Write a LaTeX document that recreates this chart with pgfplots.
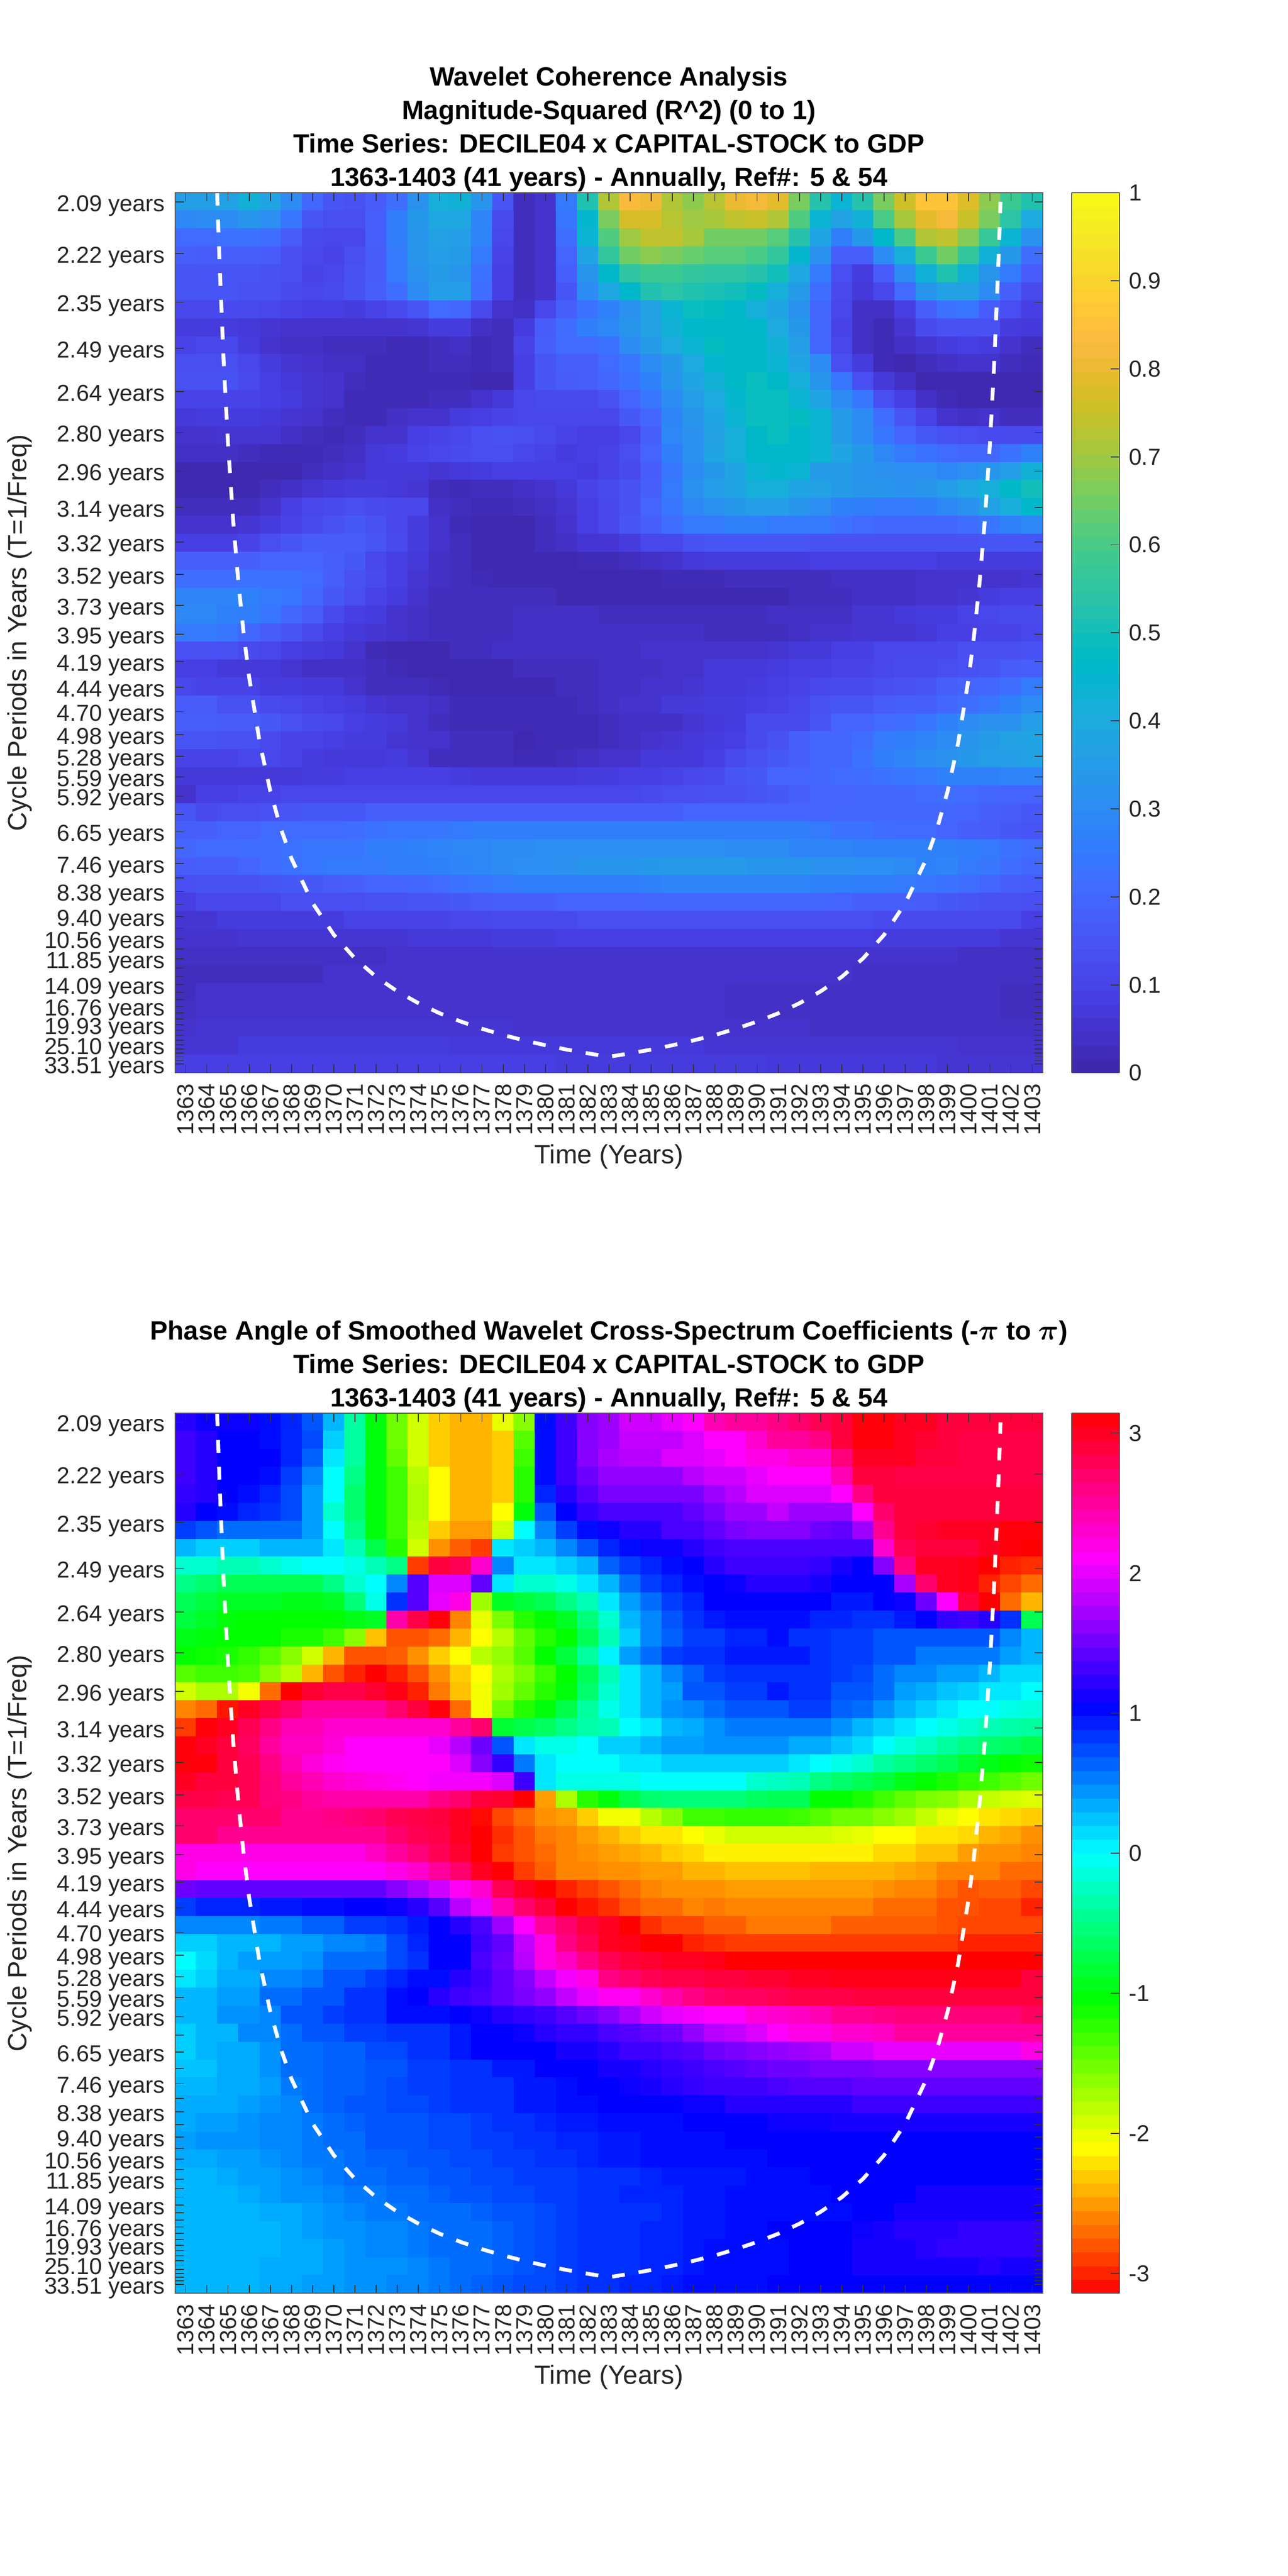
\documentclass[border=0pt]{standalone}
\usepackage{fontspec}
\setmainfont{Liberation Sans}
\usepackage{pgfplots}
\pgfplotsset{compat=1.18}
\newcount\rowno \newcount\colno
\def\acc{}\def\scl{1}
\newcommand\R[1]{%
 \global\colno=0
 \foreach \v in {#1}{%
  \ifnum\colno<41
   \pgfmathsetmacro\w{\v*\scl}%
   \xdef\acc{\acc(\the\colno,\the\rowno)[\w] }%
   \xdef\lastw{\w}%
   \global\advance\colno by 1
  \fi}%
 \loop\ifnum\colno<41
  \xdef\acc{\acc(\the\colno,\the\rowno)[\lastw] }\global\advance\colno by 1
 \repeat
 \global\advance\rowno by 1 }
% ---- magnitude-squared coherence, hundredths; one line per period row, 41 years
\def\scl{0.01}\rowno=0
\R{36,36,37,43,38,30,20,15,14,17,22,32,42,43,33,15,3,5,25,52,72,83,81,72,68,73,80,82,79,66,53,44,53,66,76,86,86,78,68,58,52}
\R{29,30,30,33,31,24,15,13,13,18,26,34,39,39,28,12,3,5,24,45,66,77,77,73,70,71,74,75,72,61,44,37,43,60,71,79,82,75,66,54,40}
\R{21,21,23,23,22,17,12,11,11,18,26,33,37,36,28,11,3,5,22,44,61,70,74,74,71,65,65,65,62,53,38,26,34,46,60,72,74,67,57,44,32}
\R{18,17,18,18,17,13,11,10,13,17,25,33,36,35,25,10,3,5,19,38,56,65,68,66,64,62,62,60,56,45,32,18,18,30,42,58,65,56,43,34,22}
\R{15,15,15,15,14,13,10,11,14,17,25,32,35,33,23,9,3,5,18,33,46,55,58,58,56,55,55,53,50,39,25,13,8,17,30,43,52,43,33,25,17}
\R{15,15,15,14,14,12,11,12,14,18,22,30,36,36,22,9,3,5,15,30,39,46,52,54,52,51,50,48,42,35,22,12,7,11,21,33,37,37,30,18,12}
\R{11,11,12,12,11,10,9,9,8,10,12,15,21,20,12,5,4,11,18,23,27,32,37,44,49,48,46,42,38,32,20,11,4,4,9,18,23,24,17,13,9}
\R{8,8,8,7,6,5,5,5,5,5,5,6,8,8,4,3,8,17,22,26,29,33,37,43,46,47,47,46,40,34,20,10,4,2,6,12,14,14,14,8,7}
\R{10,11,11,8,5,4,4,3,3,3,2,2,3,4,2,3,10,18,21,21,23,30,35,40,44,48,47,47,43,36,20,11,4,2,4,6,8,9,8,5,3}
\R{13,13,13,11,8,6,5,4,4,2,2,2,3,3,2,3,9,15,18,18,21,24,30,34,40,45,47,47,44,38,30,13,8,2,1,3,4,5,5,3,2}
\R{14,14,14,12,9,7,6,5,3,2,2,2,2,2,1,1,9,15,17,18,20,23,27,33,38,43,47,49,47,42,33,24,13,7,4,1,1,1,1,1,1}
\R{10,10,10,10,9,8,6,5,2,2,2,2,3,3,5,7,11,12,12,12,14,19,24,30,36,40,45,49,49,44,38,30,24,13,9,4,2,1,1,1,1}
\R{7,8,8,8,7,6,5,3,2,2,4,5,5,8,9,10,11,11,11,11,11,16,20,28,33,38,44,49,49,48,44,35,30,22,15,10,5,4,5,3,3}
\R{5,5,6,6,6,4,3,2,3,5,5,9,10,11,13,14,13,12,10,9,9,11,18,29,32,37,42,47,49,46,44,35,30,24,19,16,14,13,12,12,12}
\R{4,4,4,3,2,2,2,3,4,7,8,10,11,12,13,13,11,10,8,9,10,13,19,26,32,38,42,46,46,46,44,38,34,29,25,23,21,20,20,23,27}
\R{1,1,1,1,1,1,3,4,5,7,7,7,6,7,8,9,9,9,9,8,10,12,17,24,30,34,38,44,45,44,35,35,33,32,31,31,29,31,33,36,43}
\R{1,1,1,1,3,4,6,7,8,8,7,6,3,2,3,3,4,5,7,10,12,14,18,25,32,36,38,42,42,38,37,35,33,33,32,33,36,39,42,47,50}
\R{3,3,3,3,5,9,11,12,13,12,11,11,4,3,2,2,3,4,6,9,11,14,19,24,29,32,34,36,36,33,31,27,26,25,25,26,29,32,37,41,46}
\R{5,5,5,6,8,10,12,14,16,14,11,8,5,2,1,1,1,3,5,9,11,15,18,22,25,25,27,27,25,25,25,23,21,20,20,20,20,22,24,27,29}
\R{9,9,9,10,13,15,17,17,17,15,12,8,5,3,1,1,1,3,4,6,6,8,11,11,14,15,15,15,15,15,14,14,14,14,14,14,14,14,15,15,15}
\R{18,18,18,18,19,19,19,18,16,11,9,7,4,3,1,1,1,1,1,2,2,3,4,5,7,8,8,8,8,8,9,9,9,9,9,9,8,8,8,8,8}
\R{22,22,22,23,23,23,21,18,14,12,9,6,4,3,2,1,1,1,1,1,1,1,1,2,2,2,3,3,3,3,3,4,4,4,4,5,5,5,5,5,6}
\R{28,28,28,27,25,24,20,16,13,10,8,5,3,3,3,3,3,3,1,1,1,1,1,1,1,1,1,1,1,3,3,3,4,4,4,5,5,6,8,9,9}
\R{29,29,27,26,24,20,17,12,9,8,5,4,3,3,3,3,4,4,4,4,3,3,3,3,3,3,3,3,4,4,4,4,6,6,7,8,8,10,11,12,12}
\R{25,25,24,20,17,15,12,9,7,6,5,4,3,3,3,3,4,4,4,4,4,4,4,4,4,3,3,3,3,4,5,5,6,6,6,7,9,9,10,10,11}
\R{14,14,14,12,11,9,8,7,5,2,1,1,1,3,3,4,4,4,4,4,4,4,5,5,5,5,5,5,6,7,7,9,9,11,11,11,11,13,13,13,14}
\R{9,9,7,7,7,6,4,4,4,3,2,1,1,1,1,1,3,3,3,3,4,4,4,5,5,7,7,7,8,9,9,10,10,11,12,12,13,14,15,17,18}
\R{11,10,10,10,8,8,7,7,5,3,3,3,2,1,1,1,1,1,3,3,4,4,5,5,6,7,7,8,9,10,11,12,12,13,14,15,18,19,20,22,25}
\R{17,17,14,14,12,11,10,9,8,6,5,5,4,2,2,2,2,2,2,3,4,5,5,7,7,8,8,9,10,11,14,15,15,17,18,18,20,22,24,27,30}
\R{18,18,17,17,16,14,12,11,9,8,7,5,3,2,2,2,2,2,2,2,3,4,4,4,6,7,8,12,12,12,15,19,19,21,22,24,27,30,32,32,36}
\R{15,15,14,14,12,10,10,9,8,8,6,5,5,3,3,3,1,2,2,2,3,4,5,6,7,8,9,12,14,18,20,20,22,25,26,28,30,33,35,37,38}
\R{10,10,10,11,11,10,8,7,7,7,8,6,3,3,3,3,2,2,3,4,5,5,7,7,7,9,12,14,16,18,20,20,23,26,28,30,32,34,36,36,37}
\R{7,7,7,7,7,7,8,8,9,9,9,9,9,8,7,7,7,7,7,8,8,9,9,10,11,12,15,16,19,19,20,21,22,23,24,25,27,27,27,28,28}
\R{5,9,9,10,10,11,11,11,11,11,11,11,11,11,11,11,11,11,11,11,11,11,12,13,13,14,14,15,16,18,19,19,20,20,20,21,22,21,20,19,19}
\R{15,12,13,13,14,15,16,16,16,18,18,18,18,18,18,18,18,18,18,18,18,18,18,18,19,19,19,19,19,19,19,20,20,20,20,20,20,19,18,17,16}
\R{18,18,19,19,21,21,21,21,22,23,24,24,24,25,26,26,26,26,26,26,26,26,26,26,26,26,26,26,26,26,25,23,23,22,21,21,19,18,17,16,15}
\R{20,21,21,22,22,23,24,24,24,26,26,27,28,29,29,30,30,31,31,31,31,31,31,31,31,31,30,30,30,28,28,28,27,27,27,27,27,26,25,23,22}
\R{17,18,18,19,22,23,24,25,25,25,26,26,27,28,29,30,31,31,32,33,33,33,34,35,35,35,35,33,33,33,32,32,31,31,30,27,28,25,24,22,20}
\R{13,14,14,14,15,16,16,17,18,19,19,20,21,23,24,25,26,26,26,26,26,26,27,28,28,28,28,28,28,28,27,27,26,26,25,24,23,22,20,18,17}
\R{9,11,11,11,11,13,13,13,13,14,14,15,15,16,17,18,18,18,19,19,19,19,20,20,20,20,20,20,20,20,20,19,18,18,18,17,16,15,14,14,13}
\R{6,6,8,8,8,8,8,8,10,10,10,10,10,11,11,12,12,12,12,13,13,13,13,13,13,13,13,13,13,13,13,13,13,12,12,12,12,12,12,12,9}
\R{5,5,5,6,6,6,6,6,6,6,6,7,7,7,7,8,8,8,9,9,9,9,9,9,9,9,9,9,9,9,9,9,9,8,8,8,8,8,8,6,6}
\R{4,4,4,4,4,4,4,4,4,4,5,5,5,5,5,5,5,5,5,5,5,5,5,5,5,5,5,5,5,5,5,5,5,5,5,5,5,4,4,4,4}
\R{3,3,3,3,3,3,3,5,5,5,5,5,5,5,5,5,5,5,5,5,5,5,5,5,5,5,5,5,5,5,5,5,4,4,4,4,4,4,4,4,4}
\R{3,5,5,5,5,5,5,5,5,5,5,5,5,5,5,5,5,5,5,5,5,5,5,5,5,5,4,4,4,4,4,4,4,4,4,4,4,4,4,3,3}
\R{4,5,5,5,5,5,5,5,5,5,5,5,5,5,5,5,5,5,5,5,5,5,5,5,5,5,4,4,4,4,4,4,4,4,4,4,4,4,4,3,3}
\R{5,6,6,6,6,6,6,6,6,6,6,6,6,6,6,6,5,5,5,5,5,5,5,5,5,5,5,5,5,5,4,4,4,4,4,4,4,4,4,4,4}
\R{6,6,6,8,8,8,8,8,8,8,8,8,8,7,7,7,7,7,7,7,7,7,7,7,7,6,6,6,6,6,6,6,6,6,6,6,6,5,5,5,5}
\R{9,9,9,9,9,9,9,9,9,9,9,9,9,9,9,9,9,9,8,8,8,8,8,8,8,8,8,8,7,7,7,7,7,7,7,7,6,6,6,6,6}
\global\let\dataA\acc
\gdef\acc{}
% ---- phase angle, radians
\def\scl{1}\global\rowno=0
\R{1.2,1.1,1.1,1.1,1,.9,.7,.3,-.4,-1,-1.5,-1.9,-2.3,-2.4,-2.4,-2,-1.6,1,1.3,1.6,1.7,1.9,1.9,2,2.1,2.4,2.5,2.5,2.6,2.7,2.8,2.9,3.1,3.1,3,3,2.9,2.9,2.9,2.9,2.9}
\R{1.3,1.2,1.05,1.05,1,.9,.75,.2,-.4,-1,-1.5,-1.9,-2.3,-2.4,-2.4,-2.3,-1.4,1,1.3,1.6,1.7,1.85,1.85,1.85,1.95,2.1,2.1,2.3,2.5,2.5,2.6,2.9,3.1,3.1,3,2.95,2.9,2.85,2.85,2.85,2.85}
\R{1.3,1.2,1.05,1.05,1.05,.9,.65,.1,-.4,-1,-1.45,-1.9,-2.3,-2.4,-2.4,-2.3,-1.3,1,1.3,1.6,1.75,1.8,1.8,1.95,1.95,2,2.1,2.2,2.2,2.3,2.3,2.65,3,3,3,2.9,2.9,2.85,2.85,2.85,2.85}
\R{1.3,1.2,1.05,1.05,1,.8,.5,0,-.5,-1,-1.3,-1.8,-2.1,-2.4,-2.4,-2.3,-1.2,1,1.3,1.5,1.65,1.65,1.65,1.65,1.8,1.9,1.9,2,2.1,2.1,2.1,2.4,2.9,2.9,2.85,2.85,2.85,2.85,2.85,2.85,2.85}
\R{1.25,1.2,1.05,1,.9,.75,.4,0,-.6,-1,-1.3,-1.75,-2.1,-2.4,-2.4,-2.3,-1.2,.9,1.2,1.4,1.55,1.55,1.55,1.55,1.55,1.7,1.8,1.95,1.95,1.95,1.95,2.1,2.6,2.9,2.9,2.9,2.9,2.9,2.9,2.9,2.9}
\R{1.2,1.05,1,.9,.85,.75,.4,-.2,-.6,-1,-1.3,-1.75,-2.1,-2.4,-2.4,-2.1,-1,.7,1.05,1.25,1.35,1.35,1.35,1.35,1.45,1.55,1.7,1.7,1.85,1.7,1.7,1.7,2.1,2.7,2.9,2.9,2.9,2.9,2.9,2.9,2.9}
\R{.8,.7,.6,.6,.6,.6,.4,0,-.5,-1,-1.3,-1.8,-2.3,-2.5,-2.5,-1.9,0,.5,.8,1,1.1,1.2,1.2,1.35,1.35,1.45,1.55,1.6,1.6,1.6,1.5,1.45,1.7,2.55,2.9,2.95,3,3,3,3.1,3.1}
\R{.3,.2,.2,.2,.3,.3,.3,.1,-.3,-.75,-1.2,-1.9,-2.55,-2.75,-2.9,.1,.2,.3,.5,.7,.9,1,1.1,1.1,1.2,1.3,1.35,1.35,1.35,1.35,1.35,1.35,1.35,2.3,2.8,2.9,2.9,2.9,3,3.1,3.14}
\R{-.2,-.2,-.3,-.3,-.2,-.1,0,0,-.1,-.3,-.5,-2.9,2.9,2.8,2.3,.5,.1,.1,.2,.3,.65,.8,.9,1,1.05,1.2,1.3,1.3,1.3,1.3,1.25,1.15,1.05,1.6,2.6,3,3,3.05,3.14,-3,-2.95}
\R{-.5,-.6,-.7,-.7,-.7,-.7,-.7,-.5,-.2,0,.5,1.4,1.95,1.95,1.45,.1,-.2,-.2,-.1,.1,.3,.6,.8,.9,1,1.05,1.1,1.2,1.2,1.2,1.15,1.05,1.05,1.05,1.75,2.7,3,3.05,-3,-2.85,-2.7}
\R{-.7,-.8,-.9,-.9,-.9,-.95,-.95,-.9,-.55,-.1,.85,1.4,2,2.2,-1.7,-.9,-.8,-.7,-.5,-.3,.1,.4,.6,.8,.9,1.05,1.05,1.05,1.05,1.05,1.05,.95,.95,1.05,1.1,1.5,2.1,2.9,-3.14,-2.7,-2.4}
\R{-.8,-.9,-1,-1.05,-1.05,-1.05,-1.05,-1.05,-.95,-.9,2.45,2.85,3.1,-2.6,-2,-1.55,-1.2,-1.05,-.9,-.55,-.2,.3,.5,.7,.85,.95,1,1,1,1,.9,.9,.85,.85,.95,1.05,1.25,1.3,1.2,.85,-.7}
\R{-.95,-1,-1.05,-1.05,-1.05,-1.15,-1.15,-1.3,-1.6,-2.35,-2.8,-2.8,-2.7,-2.4,-2.1,-1.8,-1.45,-1.2,-1.05,-.7,-.3,.2,.5,.65,.8,.8,.9,.9,1,.85,.85,.8,.8,.7,.7,.7,.7,.7,.7,.5,.3}
\R{-1.05,-1.1,-1.15,-1.25,-1.4,-1.6,-1.9,-2.4,-2.8,-2.8,-2.75,-2.55,-2.3,-2.1,-1.8,-1.65,-1.4,-1.05,-.8,-.4,.05,.4,.6,.8,.85,.85,.95,.95,.95,.95,.85,.8,.8,.7,.7,.55,.55,.55,.55,.4,.3}
\R{-1.4,-1.3,-1.3,-1.35,-1.6,-1.8,-2.4,-2.8,-3,-3.14,-3,-2.8,-2.55,-2.3,-2.1,-1.75,-1.55,-1.3,-1.05,-.7,-.3,.1,.3,.5,.65,.8,.85,.85,.85,.85,.85,.8,.75,.6,.5,.5,.4,.4,.3,.15,.15}
\R{-1.9,-1.75,-1.75,-2.05,-2.7,-3.14,2.95,2.85,2.85,2.95,3.05,-3,-2.65,-2.35,-2.05,-1.7,-1.45,-1.2,-1,-.6,-.2,.1,.3,.4,.7,.7,.8,.8,.95,.85,.85,.7,.7,.6,.4,.35,.25,.2,.1,.1,0}
\R{-2.6,-2.7,-3.05,3,2.85,2.7,2.5,2.5,2.5,2.5,2.7,2.9,3.1,-2.7,-2.05,-1.5,-1.2,-1,-.75,-.4,-.1,.1,.3,.45,.5,.6,.7,.7,.7,.8,.8,.65,.6,.45,.3,.2,.1,0,0,-.1,-.15}
\R{-2.9,3.1,3,2.8,2.6,2.4,2.4,2.3,2.3,2.3,2.3,2.3,2.3,2.5,2.7,-.85,-.75,-.65,-.5,-.35,-.3,0,.1,.3,.35,.45,.55,.55,.55,.55,.55,.45,.3,.2,.1,0,-.1,-.2,-.3,-.35,-.4}
\R{3.1,3,2.9,2.75,2.5,2.35,2.35,2.25,2.1,2.1,2.1,2.1,2,1.8,1.5,.7,.1,-.1,-.1,0,.2,.2,.3,.4,.4,.45,.45,.45,.45,.35,.35,.25,.15,0,-.15,-.25,-.4,-.5,-.6,-.65,-.75}
\R{3.1,3.1,2.9,2.8,2.6,2.4,2.25,2.15,2.1,2.1,2.1,2.1,2.1,1.95,1.6,1.25,.55,.1,0,0,0,.1,.1,.2,.2,.2,.2,.2,.2,.1,0,-.1,-.2,-.4,-.5,-.6,-.7,-.85,-.95,-1.05,-1.1}
\R{3,2.9,2.9,2.8,2.65,2.5,2.4,2.3,2.25,2.2,2.15,2.1,2.05,2.05,2.05,1.95,1.3,.1,-.1,-.1,-.1,-.1,0,0,0,0,0,-.2,-.25,-.3,-.5,-.6,-.7,-.8,-.95,-1.05,-1.15,-1.25,-1.3,-1.4,-1.5}
\R{2.85,2.85,2.8,2.8,2.65,2.6,2.5,2.45,2.45,2.45,2.45,2.45,2.6,2.7,2.9,2.95,3.14,-2.5,-1.75,-1.2,-1,-.75,-.6,-.55,-.55,-.55,-.55,-.65,-.7,-.7,-1.05,-1.05,-1.15,-1.3,-1.45,-1.55,-1.6,-1.75,-1.85,-1.9,-1.95}
\R{2.7,2.7,2.7,2.7,2.7,2.55,2.55,2.6,2.65,2.7,2.8,2.85,2.9,3,-3.1,-2.85,-2.7,-2.55,-2.5,-2.3,-2.05,-2.05,-1.8,-1.6,-1.3,-1.3,-1.25,-1.25,-1.25,-1.3,-1.4,-1.5,-1.5,-1.6,-1.7,-1.85,-2,-2.1,-2.2,-2.25,-2.3}
\R{2.7,2.7,2.55,2.55,2.55,2.55,2.55,2.55,2.55,2.55,2.7,2.8,2.85,3,3.14,-2.95,-2.8,-2.65,-2.6,-2.5,-2.4,-2.3,-2.2,-2.2,-2.1,-2,-1.9,-1.9,-1.9,-1.9,-1.9,-1.95,-2,-2.1,-2.1,-2.2,-2.2,-2.25,-2.4,-2.45,-2.55}
\R{2.2,2.2,2.2,2.2,2.2,2.2,2.2,2.2,2.2,2.35,2.5,2.65,2.8,2.95,3.14,-2.9,-2.8,-2.7,-2.6,-2.55,-2.5,-2.45,-2.4,-2.3,-2.25,-2.15,-2.15,-2.15,-2.15,-2.15,-2.15,-2.15,-2.15,-2.25,-2.25,-2.35,-2.35,-2.5,-2.55,-2.55,-2.6}
\R{2.2,2.1,2.1,2.1,2.1,2.1,2.1,2.1,2.1,2.1,2.2,2.3,2.5,2.7,3,3.14,-2.9,-2.75,-2.6,-2.6,-2.55,-2.55,-2.5,-2.5,-2.4,-2.4,-2.35,-2.35,-2.35,-2.35,-2.4,-2.4,-2.4,-2.4,-2.45,-2.5,-2.6,-2.6,-2.6,-2.7,-2.7}
\R{1.5,1.45,1.45,1.45,1.45,1.45,1.45,1.45,1.45,1.45,1.6,1.75,1.9,2.15,2.3,2.8,3,3.14,-3,-2.9,-2.8,-2.7,-2.6,-2.55,-2.55,-2.55,-2.5,-2.5,-2.5,-2.5,-2.5,-2.5,-2.5,-2.55,-2.6,-2.6,-2.7,-2.8,-2.75,-2.75,-2.85}
\R{.8,.9,.9,.9,.95,.95,1,1,1.05,1.05,1.1,1.2,1.4,1.8,2,2.4,2.7,2.9,3.14,-3.05,-2.95,-2.8,-2.7,-2.7,-2.6,-2.65,-2.6,-2.6,-2.6,-2.6,-2.6,-2.6,-2.6,-2.7,-2.7,-2.7,-2.8,-2.8,-2.85,-2.85,-3}
\R{.5,.5,.5,.5,.55,.55,.65,.65,.8,.8,.85,.95,1.05,1.2,1.35,1.7,2.1,2.5,2.7,2.9,3,3.14,-2.95,-2.85,-2.85,-2.75,-2.75,-2.65,-2.65,-2.65,-2.65,-2.75,-2.75,-2.75,-2.75,-2.75,-2.8,-2.85,-2.85,-2.85,-2.85}
\R{.2,.2,.3,.3,.3,.4,.4,.5,.5,.55,.75,.9,1.05,1.05,1.3,1.45,1.85,2.2,2.6,2.8,3,3.05,3.14,3.14,-3,-2.95,-2.9,-2.9,-2.9,-2.9,-2.9,-2.9,-2.9,-2.9,-2.9,-2.9,-2.9,-3,-3,-3,-3}
\R{0,.15,.3,.4,.4,.4,.45,.6,.6,.6,.75,.85,1.05,1.05,1.35,1.5,1.8,2.2,2.35,2.6,2.8,2.9,2.95,3,3,3.05,3.14,3.14,3.14,3.14,3.14,3.14,3.14,3.14,3.14,3.14,3.14,3.14,3.14,3.14,3.14}
\R{.1,.2,.35,.35,.5,.5,.55,.7,.7,.8,.9,1,1,1.2,1.3,1.45,1.6,1.85,2.05,2.2,2.6,2.7,2.8,2.85,2.85,2.9,2.9,2.95,2.95,3,3,3.05,3.05,3.05,3.05,3.05,3.05,3.05,3.05,3.05,2.9}
\R{.3,.3,.4,.4,.6,.6,.7,.7,.85,.85,1,1.05,1.2,1.3,1.35,1.45,1.55,1.65,1.85,2,2.15,2.15,2.3,2.45,2.6,2.7,2.75,2.75,2.8,2.85,2.85,2.85,2.9,2.9,2.9,2.9,2.9,2.9,2.9,2.9,2.9}
\R{.3,.3,.45,.45,.5,.7,.7,.8,.85,.85,1,1,1,1.05,1.1,1.2,1.25,1.3,1.4,1.5,1.6,1.75,1.9,2,2.05,2.1,2.1,2.25,2.3,2.35,2.4,2.55,2.55,2.6,2.65,2.65,2.65,2.65,2.65,2.65,2.75}
\R{.2,.3,.3,.5,.5,.6,.7,.7,.8,.8,.85,.85,.85,.95,1.05,1.05,1.1,1.2,1.25,1.25,1.35,1.4,1.45,1.5,1.65,1.8,1.85,1.95,2.1,2.2,2.2,2.3,2.3,2.35,2.5,2.5,2.5,2.5,2.5,2.5,2.5}
\R{.2,.3,.35,.35,.45,.6,.6,.65,.65,.75,.75,.85,.85,.95,1.05,1.05,1.05,1.05,1.15,1.15,1.2,1.3,1.3,1.35,1.4,1.5,1.55,1.6,1.65,1.7,1.75,1.9,1.9,2,2,2,2,2,2,2,2.2}
\R{.25,.25,.35,.35,.45,.6,.6,.65,.65,.7,.7,.8,.8,.85,.85,.95,.95,1.05,1.05,1.05,1.15,1.15,1.2,1.25,1.3,1.35,1.4,1.45,1.5,1.5,1.55,1.55,1.55,1.6,1.6,1.6,1.6,1.6,1.6,1.6,1.6}
\R{.3,.3,.35,.35,.4,.55,.6,.65,.65,.7,.75,.8,.8,.85,.85,.85,.95,.95,1,1.05,1.05,1.1,1.15,1.2,1.25,1.3,1.3,1.3,1.35,1.4,1.4,1.4,1.45,1.45,1.45,1.45,1.45,1.45,1.45,1.45,1.45}
\R{.35,.35,.35,.4,.45,.5,.6,.65,.7,.7,.75,.75,.8,.85,.85,.85,.95,.95,1,1,1.05,1.05,1.05,1.05,1.1,1.1,1.2,1.2,1.2,1.2,1.2,1.2,1.3,1.3,1.3,1.3,1.3,1.3,1.3,1.3,1.3}
\R{.35,.4,.4,.45,.5,.5,.55,.6,.65,.7,.7,.7,.75,.75,.8,.85,.85,.9,.95,.95,1,1,1,1,1.05,1.05,1.05,1.05,1.1,1.1,1.1,1.15,1.15,1.15,1.15,1.15,1.15,1.15,1.15,1.15,1.15}
\R{.4,.45,.45,.45,.5,.5,.55,.6,.6,.7,.7,.7,.75,.75,.8,.8,.85,.85,.9,.9,.95,.95,1,1,1,1,1.05,1.05,1.05,1.05,1.05,1.05,1.05,1.05,1.05,1.05,1.05,1.05,1.05,1.05,1.05}
\R{.35,.35,.4,.4,.45,.5,.55,.55,.6,.65,.65,.7,.7,.75,.75,.8,.8,.85,.85,.9,.95,.95,1,1,1,1,1,1,1.05,1.05,1.05,1.05,1.05,1.05,1.05,1.05,1.05,1.05,1.05,1.05,1.05}
\R{.3,.3,.35,.4,.4,.45,.5,.55,.6,.6,.65,.65,.7,.7,.75,.75,.8,.8,.8,.85,.85,.85,.9,.95,.95,.95,.95,1,1,1,1.05,1.05,1.05,1.05,1.05,1.05,1.05,1.05,1.05,1.05,1.05}
\R{.3,.3,.3,.35,.4,.45,.45,.5,.55,.55,.6,.6,.65,.7,.7,.75,.75,.8,.8,.85,.85,.9,.9,.9,.95,.95,1,1,1,1,1,1.05,1.05,1.05,1.05,1.15,1.15,1.15,1.15,1.15,1.15}
\R{.3,.3,.3,.3,.35,.35,.4,.45,.5,.55,.55,.6,.6,.6,.65,.7,.7,.75,.8,.85,.85,.85,.85,.9,.95,.95,1,1,1,1,1,1,1.05,1.05,1.15,1.15,1.15,1.15,1.15,1.15,1.15}
\R{.3,.3,.3,.3,.3,.35,.4,.45,.45,.5,.5,.55,.6,.6,.6,.65,.7,.75,.8,.85,.85,.85,.9,.9,.95,.95,1,1,1.05,1.05,1.05,1.05,1.1,1.15,1.2,1.2,1.2,1.25,1.25,1.25,1.25}
\R{.3,.3,.3,.3,.3,.35,.35,.4,.45,.5,.5,.55,.6,.6,.6,.65,.7,.75,.8,.85,.85,.85,.9,.9,.95,1,1,1,1,1.05,1.05,1.05,1.15,1.15,1.15,1.2,1.25,1.25,1.25,1.25,1.25}
\R{.3,.3,.3,.3,.35,.35,.35,.4,.45,.45,.45,.5,.55,.6,.6,.65,.7,.75,.8,.85,.85,.85,.9,.9,.95,1,1,1,1,1.05,1.05,1.05,1.15,1.15,1.15,1.15,1.15,1.15,1.2,1.15,1.15}
\R{.3,.3,.3,.3,.35,.35,.4,.4,.45,.45,.5,.5,.55,.6,.65,.7,.75,.75,.8,.85,.85,.9,.9,.95,1,1,1,1,1.05,1.05,1.05,1.05,1.05,1.05,1.05,1.05,1.05,1.05,1.05,1.05,1.05}
\global\let\dataB\acc
\pgfplotsset{
 colormap={parula}{rgb=(0.2422,0.1504,0.6603) rgb=(0.2504,0.1650,0.7076) rgb=(0.2578,0.1818,0.7511) rgb=(0.2647,0.1978,0.7952) rgb=(0.2706,0.2147,0.8364) rgb=(0.2751,0.2342,0.8710) rgb=(0.2783,0.2559,0.8991) rgb=(0.2803,0.2782,0.9221) rgb=(0.2813,0.3006,0.9414) rgb=(0.2810,0.3228,0.9579) rgb=(0.2795,0.3447,0.9717) rgb=(0.2760,0.3667,0.9829) rgb=(0.2699,0.3892,0.9906) rgb=(0.2602,0.4123,0.9952) rgb=(0.2440,0.4358,0.9988) rgb=(0.2206,0.4603,0.9973) rgb=(0.1963,0.4847,0.9892) rgb=(0.1834,0.5074,0.9798) rgb=(0.1786,0.5289,0.9682) rgb=(0.1764,0.5499,0.9520) rgb=(0.1687,0.5703,0.9359) rgb=(0.1540,0.5902,0.9218) rgb=(0.1460,0.6091,0.9079) rgb=(0.1380,0.6276,0.8973) rgb=(0.1248,0.6459,0.8883) rgb=(0.1113,0.6635,0.8763) rgb=(0.0952,0.6798,0.8598) rgb=(0.0689,0.6948,0.8394) rgb=(0.0297,0.7082,0.8163) rgb=(0.0036,0.7203,0.7917) rgb=(0.0067,0.7312,0.7660) rgb=(0.0433,0.7411,0.7394) rgb=(0.0964,0.7500,0.7120) rgb=(0.1408,0.7584,0.6842) rgb=(0.1717,0.7670,0.6554) rgb=(0.1938,0.7758,0.6251) rgb=(0.2161,0.7843,0.5923) rgb=(0.2470,0.7918,0.5567) rgb=(0.2906,0.7973,0.5188) rgb=(0.3406,0.8008,0.4789) rgb=(0.3909,0.8029,0.4354) rgb=(0.4456,0.8024,0.3909) rgb=(0.5044,0.7993,0.3480) rgb=(0.5616,0.7942,0.3045) rgb=(0.6174,0.7876,0.2612) rgb=(0.6720,0.7793,0.2227) rgb=(0.7242,0.7698,0.1910) rgb=(0.7738,0.7598,0.1646) rgb=(0.8203,0.7498,0.1535) rgb=(0.8634,0.7406,0.1596) rgb=(0.9035,0.7330,0.1774) rgb=(0.9393,0.7288,0.2100) rgb=(0.9728,0.7298,0.2394) rgb=(0.9956,0.7434,0.2371) rgb=(0.9970,0.7659,0.2199) rgb=(0.9952,0.7893,0.2028) rgb=(0.9892,0.8136,0.1885) rgb=(0.9786,0.8386,0.1766) rgb=(0.9676,0.8639,0.1643) rgb=(0.9610,0.8890,0.1537) rgb=(0.9597,0.9135,0.1423) rgb=(0.9628,0.9373,0.1265) rgb=(0.9691,0.9606,0.1064) rgb=(0.9769,0.9839,0.0805)},
 colormap={hsvmap}{rgb255=(255,0,0) rgb255=(255,255,0) rgb255=(0,255,0) rgb255=(0,255,255) rgb255=(0,0,255) rgb255=(255,0,255) rgb255=(255,0,0)},
 wave/.style={
  scale only axis, width=526.5pt, height=534pt,
  xmin=-0.5, xmax=40.5, ymin=-0.5, ymax=48.5, y dir=reverse,
  xtick={0,...,40},
  xticklabels={1363,1364,1365,1366,1367,1368,1369,1370,1371,1372,1373,1374,1375,1376,1377,1378,1379,1380,1381,1382,1383,1384,1385,1386,1387,1388,1389,1390,1391,1392,1393,1394,1395,1396,1397,1398,1399,1400,1401,1402,1403},
  ytick={0,2.874,5.586,8.146,10.562,12.844,14.996,17.028,18.946,20.756,22.465,24.078,25.6,27.037,28.393,29.673,30.881,32.022,33.098,34.114,35.073,35.978,36.832,37.639,38.4,39.118,39.797,40.437,41.04,41.611,42.149,42.657,43.137,43.589,44.016,44.42,44.8,45.159,45.498,45.818,46.12,46.406,46.674,46.928,47.168,47.394,47.608,47.81,48},
  yticklabels={2.09 years,2.22 years,2.35 years,2.49 years,2.64 years,2.80 years,2.96 years,3.14 years,3.32 years,3.52 years,3.73 years,3.95 years,4.19 years,4.44 years,4.70 years,4.98 years,5.28 years,5.59 years,5.92 years,{},6.65 years,{},7.46 years,{},8.38 years,{},9.40 years,{},10.56 years,{},11.85 years,{},{},14.09 years,{},{},16.76 years,{},{},19.93 years,{},{},{},25.10 years,{},{},{},{},33.51 years},
  tick label style={font=\fontsize{14}{16}\selectfont,color=black!85},
  xticklabel style={rotate=90,anchor=east,inner sep=0pt},
  yticklabel style={anchor=east,inner sep=0pt,yshift=-2.3pt},
  xticklabel shift=6.5pt, yticklabel shift=6pt,
  tickwidth=5.2pt, tick style={color=black!80,line width=.55pt},
  axis line style={color=black!65,line width=.6pt},
  axis on top,
  xlabel={Time (Years)}, ylabel={Cycle Periods in Years (T=1/Freq)},
  every axis x label/.style={at={(axis description cs:0.5,-0.0955)},anchor=center,font=\fontsize{16}{19}\selectfont,color=black!85},
  every axis y label/.style={at={(axis description cs:-0.179,0.5)},rotate=90,anchor=center,font=\fontsize{16}{19}\selectfont,color=black!85},
  title style={font=\fontsize{16}{20.4}\selectfont\bfseries\boldmath,align=center,yshift=-9pt},
  colorbar sampled,
  colorbar style={samples=65, width=29pt, at={(1.0332,1)}, anchor=north west,
    tickwidth=5.2pt, axis line style={color=black!65,line width=.6pt},
    ytick pos=right, yticklabel pos=right, yticklabel shift=5.5pt,
    yticklabel style={font=\fontsize{14}{16}\selectfont,color=black!85,
      /pgf/number format/assume math mode=true,/pgf/number format/fixed,anchor=west,inner sep=0pt},
    tick style={color=black!80,line width=.55pt}},
 },
 coi/.style={white,line width=2.3pt,dash pattern=on 7.75pt off 8.5pt,no markers,forget plot},
}
\newcommand\heat[1]{\addplot[matrix plot*,mesh/cols=41,point meta=explicit,forget plot] coordinates {#1};}
\begin{document}
\begin{tikzpicture}
\path[use as bounding box] (0,0) rectangle (781.25pt,1563pt);
\begin{axis}[wave, at={(106.25pt,912pt)}, anchor=south west,
  colormap name=parula, point meta min=0, point meta max=1,
  colorbar style={ytick={0,0.1,...,1}},
  title={Wavelet Coherence Analysis\\Magnitude-Squared (R\textasciicircum 2) (0 to 1)\\Time Series: DECILE04 x CAPITAL-STOCK to GDP\\1363-1403 (41 years) - Annually, Ref\#: 5 \& 54}]
\expandafter\heat\expandafter{\dataA}
\addplot[coi] coordinates {(1.486,-.5)(1.5,0)(1.6,3.41)(1.8,9.04)(2,13.47)(2.25,17.86)(2.5,21.33)(2.75,24.15)(3,26.48)(3.5,30.12)(4,32.82)(4.5,34.91)(5,36.57)(6,39.05)(7,40.81)(8,42.13)(9,43.15)(10,43.96)(11,44.62)(12,45.18)(13,45.64)(14,46.04)(15,46.39)(16,46.69)(17,46.96)(18,47.2)(19,47.41)(20,47.6)(21,47.41)(22,47.2)(23,46.96)(24,46.69)(25,46.39)(26,46.04)(27,45.64)(28,45.18)(29,44.62)(30,43.96)(31,43.15)(32,42.13)(33,40.81)(34,39.05)(35,36.57)(35.5,34.91)(36,32.82)(36.5,30.12)(37,26.48)(37.25,24.15)(37.5,21.33)(37.75,17.86)(38,13.47)(38.2,9.04)(38.4,3.41)(38.5,0)};
\end{axis}
\begin{axis}[wave, at={(106.25pt,171.5pt)}, anchor=south west,
  colormap name=hsvmap, point meta min=-3.14159, point meta max=3.14159,
  colorbar style={ytick={-3,-2,-1,0,1,2,3}},
  title={Phase Angle of Smoothed Wavelet Cross-Spectrum Coefficients (-$\pi$ to $\pi$)\\Time Series: DECILE04 x CAPITAL-STOCK to GDP\\1363-1403 (41 years) - Annually, Ref\#: 5 \& 54}]
\expandafter\heat\expandafter{\dataB}
\addplot[coi] coordinates {(1.486,-.5)(1.5,0)(1.6,3.41)(1.8,9.04)(2,13.47)(2.25,17.86)(2.5,21.33)(2.75,24.15)(3,26.48)(3.5,30.12)(4,32.82)(4.5,34.91)(5,36.57)(6,39.05)(7,40.81)(8,42.13)(9,43.15)(10,43.96)(11,44.62)(12,45.18)(13,45.64)(14,46.04)(15,46.39)(16,46.69)(17,46.96)(18,47.2)(19,47.41)(20,47.6)(21,47.41)(22,47.2)(23,46.96)(24,46.69)(25,46.39)(26,46.04)(27,45.64)(28,45.18)(29,44.62)(30,43.96)(31,43.15)(32,42.13)(33,40.81)(34,39.05)(35,36.57)(35.5,34.91)(36,32.82)(36.5,30.12)(37,26.48)(37.25,24.15)(37.5,21.33)(37.75,17.86)(38,13.47)(38.2,9.04)(38.4,3.41)(38.5,0)};
\end{axis}
\end{tikzpicture}
\end{document}
